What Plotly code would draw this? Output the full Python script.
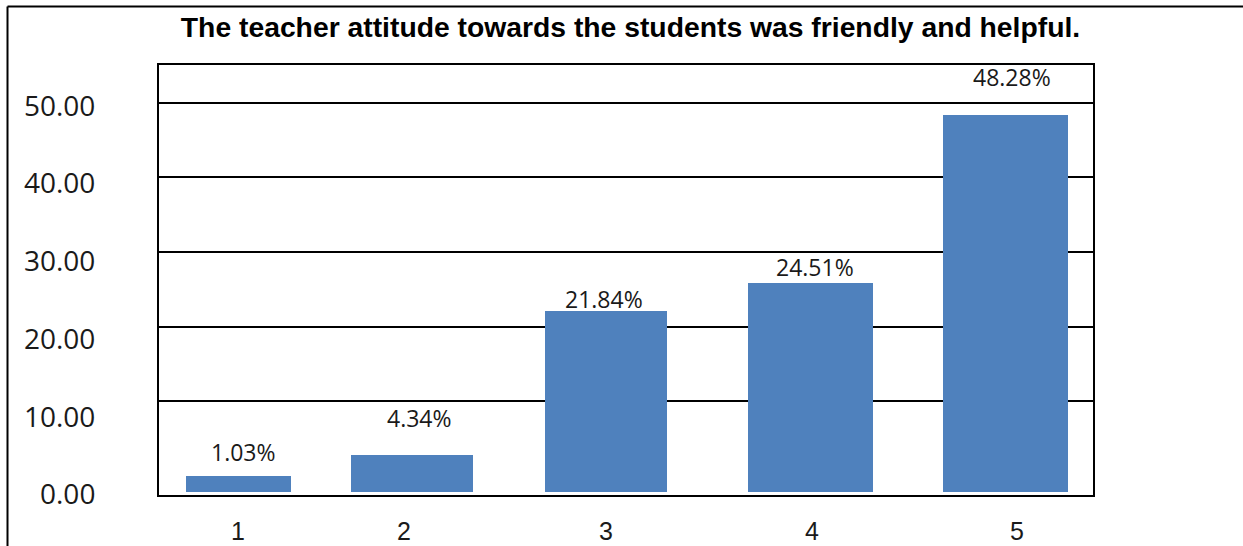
import plotly.graph_objects as go

# ---- data ----
categories = ["1", "2", "3", "4", "5"]
bar_heights = [2.44, 5.14, 23.65, 27.16, 48.84]          # bar tops read on the labelled axis
bar_labels = ["1.03%", "4.34%", "21.84%", "24.51%", "48.28%"]
y_tick_values = [0, 10, 20, 30, 40, 50]
y_tick_text = ["0.00", "10.00", "20.00", "30.00", "40.00", "50.00"]
grid_values = [10, 20, 30, 40, 50]

# ---- layout constants (positions/sizes/styles) ----
W, H = 1243, 546
L, R, T, B = 159, 1093, 65, 495.5
slot_centers = [238.5, 412, 606, 810.5, 1005.5]   # bar centres (px along x axis)
slot_widths = [105, 122, 122, 125, 125]
tick_centers = [238, 404, 606, 812, 1017]
label_x = [243, 419.5, 604, 815, 1011.7]
label_y = [5.53, 9.9, 25.2, 29.3, 53.77]
bar_base = 0.3
BLUE = "#4F81BD"
TITLE_FONT = "Liberation Sans, Arial, sans-serif"
SANS = "Open Sans, Noto Sans, sans-serif"

fig = go.Figure()
fig.add_trace(go.Bar(
    x=slot_centers, y=[h - bar_base for h in bar_heights], base=bar_base,
    width=slot_widths, marker=dict(color=BLUE, line=dict(width=0)),
    yaxis="y", hoverinfo="skip", showlegend=False,
))
# invisible trace to activate grid axis
fig.add_trace(go.Scatter(x=[L], y=[grid_values[0]], yaxis="y2", mode="markers",
                         marker=dict(opacity=0), showlegend=False, hoverinfo="skip"))

for lx, ly, txt in zip(label_x, label_y, bar_labels):
    fig.add_annotation(x=lx, y=ly, xref="x", yref="y", text=txt, showarrow=False,
                       xanchor="center", yanchor="middle",
                       font=dict(family=SANS, size=23, color="#1a1a1a"))

shapes = [
    dict(type="line", xref="paper", yref="paper", x0=-0.1622, x1=1.3, y0=1.1359, y1=1.1359,
         line=dict(color="black", width=2)),
    dict(type="line", xref="paper", yref="paper", x0=-0.1622, x1=-0.1622, y0=-0.3, y1=1.1359,
         line=dict(color="black", width=2)),
]

fig.update_layout(
    width=W, height=H,
    margin=dict(l=L, r=W - R, t=T, b=H - B, pad=0, autoexpand=False),
    paper_bgcolor="white", plot_bgcolor="white",
    title=dict(text="<b>The teacher attitude towards the students was friendly and helpful.</b>",
               x=630.5 / W, xref="container", xanchor="center",
               y=1 - 27 / H, yref="container", yanchor="middle",
               font=dict(family=TITLE_FONT, size=28.3, color="black")),
    xaxis=dict(range=[L, R], tickvals=tick_centers, ticktext=categories, automargin=False,
               showgrid=False, zeroline=False, showline=True, linecolor="black", linewidth=2,
               mirror=True, ticks="", ticklabelstandoff=13,
               tickfont=dict(family=TITLE_FONT, size=25, color="#1a1a1a")),
    yaxis=dict(range=[-0.06, 55.27], tickvals=y_tick_values, ticktext=y_tick_text,
               automargin=False,
               showgrid=False, zeroline=False, showline=True, linecolor="black", linewidth=2,
               mirror=True, ticks="", ticklabelstandoff=56,
               tickfont=dict(family=SANS, size=28, color="#1a1a1a")),
    yaxis2=dict(range=[-2.6, 55.09], overlaying="y", side="left", tickvals=grid_values,
                automargin=False,
                showticklabels=False, showgrid=True, gridcolor="black", gridwidth=2,
                zeroline=False, showline=False, ticks=""),
    shapes=shapes,
    bargap=0,
)

fig.write_html("out.html", config={"displayModeBar": False, "staticPlot": True},
               post_script="document.body.style.margin='0px';document.body.style.overflow='hidden';")
